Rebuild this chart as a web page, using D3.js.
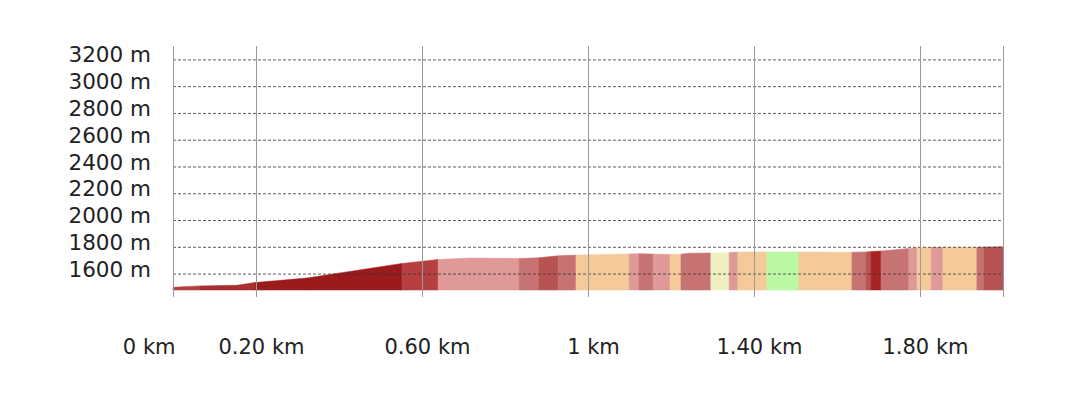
<!DOCTYPE html>
<html>
<head>
<meta charset="utf-8">
<script src="https://cdn.jsdelivr.net/npm/d3@7"></script>
<style>
  html, body { margin: 0; padding: 0; background: #fff; }
  svg { display: block; }
  text { font-family: "DejaVu Sans", "Open Sans", sans-serif; fill: #222; }
</style>
</head>
<body>
<svg id="chart" width="1080" height="404"></svg>
<script>
// ---- data ----
const profileKm = [0, 0.065, 0.154, 0.198, 0.323, 0.552, 0.639, 0.716, 0.834, 0.882, 0.928, 0.971,
  1.099, 1.123, 1.157, 1.198, 1.224, 1.240, 1.296, 1.340, 1.361, 1.431, 1.508, 1.636, 1.670, 1.682,
  1.706, 1.773, 1.793, 1.827, 1.855, 1.937, 1.954, 2.0];
const profileElev = [1498, 1508, 1513, 1533, 1567, 1676, 1705, 1716, 1713, 1719, 1733, 1738,
  1747, 1749, 1746, 1743, 1744, 1752, 1754, 1757, 1761, 1762, 1762, 1760, 1762, 1765,
  1769, 1787, 1792, 1796, 1797, 1797, 1798, 1800];
const segStart = [0, 0.065, 0.198, 0.552, 0.639, 0.834, 0.882, 0.928, 0.971, 1.099, 1.123, 1.157,
  1.198, 1.224, 1.296, 1.340, 1.361, 1.431, 1.508, 1.636, 1.670, 1.682, 1.706, 1.773, 1.793,
  1.827, 1.855, 1.937, 1.954];
const segEnd = [0.065, 0.198, 0.552, 0.639, 0.834, 0.882, 0.928, 0.971, 1.099, 1.123, 1.157, 1.198,
  1.224, 1.296, 1.340, 1.361, 1.431, 1.508, 1.636, 1.670, 1.682, 1.706, 1.773, 1.793, 1.827,
  1.855, 1.937, 1.954, 2.0];
const segClass = ["c5", "c6", "c8", "c5", "c2", "c3", "c4", "c3", "c1", "c2", "c3", "c2",
  "c1", "c3", "c0", "c2", "c1", "cg", "c1", "c3", "c4", "c7", "c3", "c2", "c1",
  "c2", "c1", "c3", "c4"];
const classNames = ["cg", "c0", "c1", "c2", "c3", "c4", "c5", "c6", "c7", "c8"];
const classColors = ["#bbf7a5", "#eff0c1", "#f4ca99", "#df9999", "#c87373", "#b85353",
  "#b63f3f", "#a82f2f", "#a82424", "#9a1b1b"];
const baseElev = 1477;
const yTicks = [1600, 1800, 2000, 2200, 2400, 2600, 2800, 3000, 3200];
const xTicks = [0, 0.2, 0.6, 1, 1.4, 1.8];
const xTickLabels = ["0 km", "0.20 km", "0.60 km", "1 km", "1.40 km", "1.80 km"];
const xDomain = [0, 2];
const yDomain = [1425, 3300];

// ---- layout ----
const svg = d3.select("#chart");
const x = d3.scaleLinear().domain(xDomain).range([173, 1003]);
const y = d3.scaleLinear().domain(yDomain).range([297, 46]);
const color = d3.scaleOrdinal().domain(classNames).range(classColors);

const pts = profileKm.map((k, i) => ({ km: k, elev: profileElev[i] }));
const area = d3.area().x(d => x(d.km)).y0(y(baseElev)).y1(d => y(d.elev));

const segs = segStart.map((s, i) => ({
  cls: segClass[i],
  pts: pts.filter(p => p.km >= s - 1e-9 && p.km <= segEnd[i] + 1e-9)
}));

svg.append("g").selectAll("path").data(segs).join("path")
  .attr("d", d => area(d.pts))
  .attr("fill", d => color(d.cls))
  .attr("stroke", d => color(d.cls))
  .attr("stroke-width", 0.5);

// horizontal dashed grid + y labels
const yAxis = d3.axisLeft(y).tickValues(yTicks).tickFormat(d => d + " m")
  .tickSize(-(x(xDomain[1]) - x(xDomain[0]))).tickPadding(22);
const gy = svg.append("g").attr("transform", `translate(${x(0)},0)`).call(yAxis);
gy.select(".domain").remove();
gy.selectAll(".tick line").attr("stroke", "#333").attr("stroke-width", 0.8)
  .attr("stroke-dasharray", "3,2");
gy.selectAll(".tick text").attr("font-size", 21.5).attr("dy", "0.12em")
  .style("font-family", "'DejaVu Sans', sans-serif").attr("fill", "#222");

// vertical grid lines + x labels
const xAxis = d3.axisBottom(x).tickValues(xTicks.concat([xDomain[1]]))
  .tickFormat(d => { const i = xTicks.indexOf(d); return i >= 0 ? xTickLabels[i] : ""; })
  .tickSize(-(y(yDomain[0]) - y(yDomain[1]))).tickPadding(42);
const gx = svg.append("g").attr("transform", `translate(0,${y(yDomain[0])})`).call(xAxis);
gx.select(".domain").remove();
gx.selectAll(".tick line").attr("stroke", "#999").attr("stroke-width", 1);
gx.selectAll(".tick text").attr("font-size", 21).attr("fill", "#222")
  .style("font-family", "'DejaVu Sans', sans-serif")
  .attr("text-anchor", d => d === 0 ? "end" : "middle")
  .attr("dx", d => d === 0 ? 2 : 5);
</script>
</body>
</html>
